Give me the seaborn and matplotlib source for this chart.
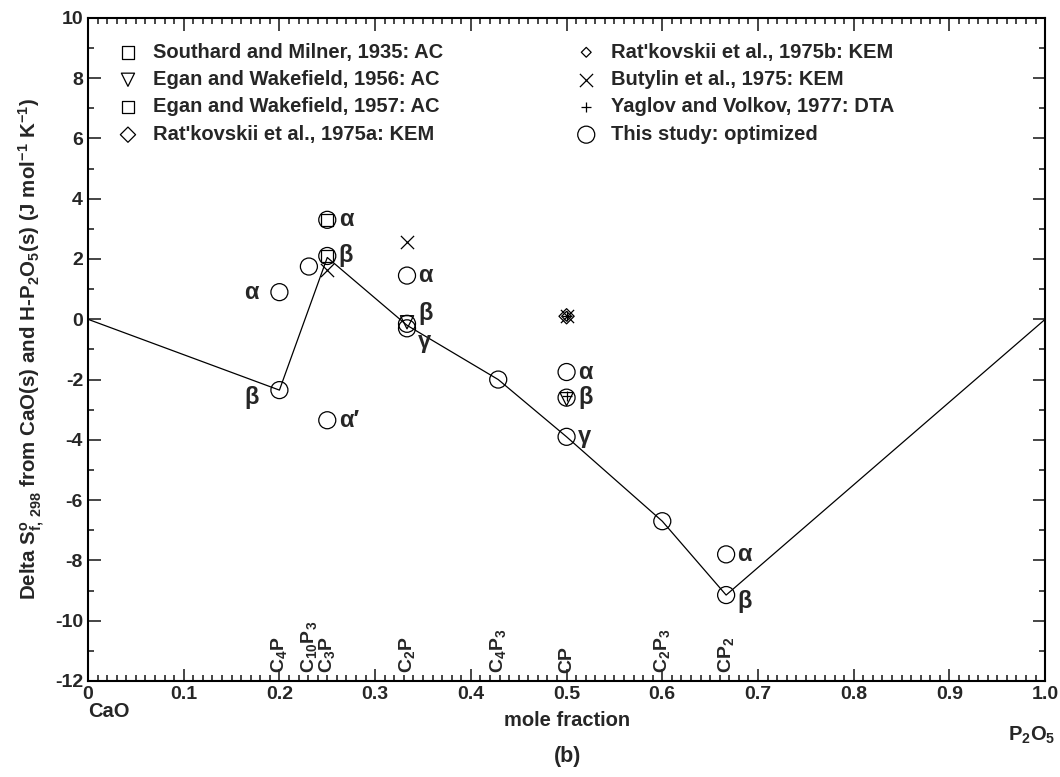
import matplotlib
matplotlib.use("Agg")
import matplotlib.pyplot as plt
import seaborn as sns
import pandas as pd
from matplotlib.ticker import MultipleLocator

sns.set_theme(style="ticks")
plt.rcParams['font.family'] = ['Liberation Sans', 'DejaVu Sans']
plt.rcParams['font.weight'] = 'bold'
plt.rcParams['mathtext.fontset'] = 'custom'
plt.rcParams['mathtext.rm'] = 'Liberation Sans:bold'
plt.rcParams['mathtext.it'] = 'Liberation Sans:bold'
plt.rcParams['mathtext.bf'] = 'Liberation Sans:bold'
plt.rcParams['mathtext.default'] = 'bf'
plt.rcParams['axes.unicode_minus'] = False

# optimized line
line_x = [0.0, 0.2, 0.25, 0.3333, 0.4286, 0.5, 0.6, 0.6667, 1.0]
line_y = [0.0, -2.35, 2.05, -0.2, -2.0, -3.9, -6.7, -9.15, 0.0]

# this study: optimized (circles)
opt_x = [0.2, 0.2, 0.2308, 0.25, 0.25, 0.25, 0.3333, 0.3333, 0.3333, 0.4286, 0.5, 0.5, 0.5, 0.6, 0.6667, 0.6667]
opt_y = [0.9, -2.35, 1.75, 3.3, 2.1, -3.35, 1.45, -0.15, -0.3, -2.0, -1.75, -2.6, -3.9, -6.7, -7.8, -9.15]

southard_x = [0.25]; southard_y = [3.3]
egan56_x = [0.3333, 0.5]; egan56_y = [-0.1, -2.65]
egan57_x = [0.25]; egan57_y = [2.1]
ratA_x = [0.5]; ratA_y = [0.1]
ratB_x = [0.5]; ratB_y = [0.1]
butylin_x = [0.25, 0.3333, 0.5]; butylin_y = [1.65, 2.55, 0.1]
yaglov_x = [0.5, 0.5]; yaglov_y = [0.1, -2.55]

phase_labels = ["α", "β", "α", "β", "α′", "α", "β", "γ", "α", "β", "γ", "α", "β"]
phase_x = [0.178, 0.178, 0.262, 0.262, 0.262, 0.345, 0.345, 0.345, 0.512, 0.512, 0.512, 0.678, 0.678]
phase_y = [0.9, -2.6, 3.3, 2.1, -3.35, 1.45, 0.2, -0.75, -1.75, -2.6, -3.9, -7.8, -9.35]

compounds = ["C$_4$P", "C$_{10}$P$_3$", "C$_3$P", "C$_2$P", "C$_4$P$_3$", "CP", "C$_2$P$_3$", "CP$_2$"]
compound_x = [0.2, 0.2308, 0.25, 0.3333, 0.4286, 0.5, 0.6, 0.6667]

fig = plt.figure(figsize=(10.6, 7.77), dpi=100)
ax = fig.add_axes([0.083, 0.1236, 0.903, 0.8534])

sns.lineplot(x=line_x, y=line_y, ax=ax, color='black', lw=0.9, sort=False, legend=False)

mk = dict(facecolors='none', edgecolor='black', linewidth=0.9)
series = [
    (southard_x, southard_y, 's', 80, "Southard and Milner, 1935: AC"),
    (egan56_x, egan56_y, 'v', 90, "Egan and Wakefield, 1956: AC"),
    (egan57_x, egan57_y, 's', 80, "Egan and Wakefield, 1957: AC"),
    (ratA_x, ratA_y, 'D', 60, "Rat'kovskii et al., 1975a: KEM"),
    (ratB_x, ratB_y, 'D', 25, "Rat'kovskii et al., 1975b: KEM"),
    (butylin_x, butylin_y, 'x', 90, "Butylin et al., 1975: KEM"),
    (yaglov_x, yaglov_y, '+', 60, "Yaglov and Volkov, 1977: DTA"),
    (opt_x, opt_y, 'o', 150, "This study: optimized"),
]
handles = []
for xs, ys, m, s, lab in series:
    if m in ('x', '+'):
        sc = ax.scatter(xs, ys, marker=m, s=s, color='black', linewidths=0.9, label=lab)
    else:
        sc = ax.scatter(xs, ys, marker=m, s=s, label=lab, **mk)
    handles.append(sc)

for t, x, y in zip(phase_labels, phase_x, phase_y):
    ax.text(x, y, t, fontsize=17, fontweight='bold', ha='left' if x > 0.19 else 'right', va='center')

for t, x in zip(compounds, compound_x):
    ax.text(x, -11.75, t, rotation=90, fontsize=14, ha='center', va='bottom')

ax.set_xlim(0, 1.0)
ax.set_ylim(-12, 10)
ax.xaxis.set_minor_locator(MultipleLocator(0.01))
ax.yaxis.set_major_locator(MultipleLocator(2))
ax.yaxis.set_minor_locator(MultipleLocator(1))
ax.set_xticks([i / 10 for i in range(11)])
ax.set_xticklabels(["0"] + ["0.%d" % i for i in range(1, 10)] + ["1.0"])
ax.tick_params(which='both', direction='in', top=True, right=True, labelsize=14, width=1.2)
ax.tick_params(which='major', length=9)
ax.tick_params(which='minor', length=4.5)
for lbl in ax.get_xticklabels() + ax.get_yticklabels():
    lbl.set_fontweight('bold')
for sp in ax.spines.values():
    sp.set_linewidth(1.5)
    sp.set_color('black')

ax.set_xlabel("mole fraction", fontsize=14.5, fontweight='bold', labelpad=6)
ax.set_ylabel("Delta S$^{o}_{f,\\,298}$ from CaO(s) and H-P$_2$O$_5$(s) (J mol$^{-1}$ K$^{-1}$)",
              fontsize=14.8, fontweight='bold', labelpad=6)
fig.text(0.083, 0.084, "CaO", fontsize=14.5, fontweight='bold', ha='left', va='center')
fig.text(0.996, 0.054, "P$_2$O$_5$", fontsize=14.5, fontweight='bold', ha='right', va='center')
fig.text(0.535, 0.026, "(b)", fontsize=15.5, fontweight='bold', ha='center', va='center')

leg = ax.legend(handles=handles, ncol=2, frameon=False, loc='upper left',
                bbox_to_anchor=(0.006, 0.984), fontsize=14.5, columnspacing=6.1,
                handletextpad=0.25, labelspacing=0.42, borderaxespad=0.3)
for t in leg.get_texts():
    t.set_fontweight('bold')

fig.savefig("out.png", dpi=100)
